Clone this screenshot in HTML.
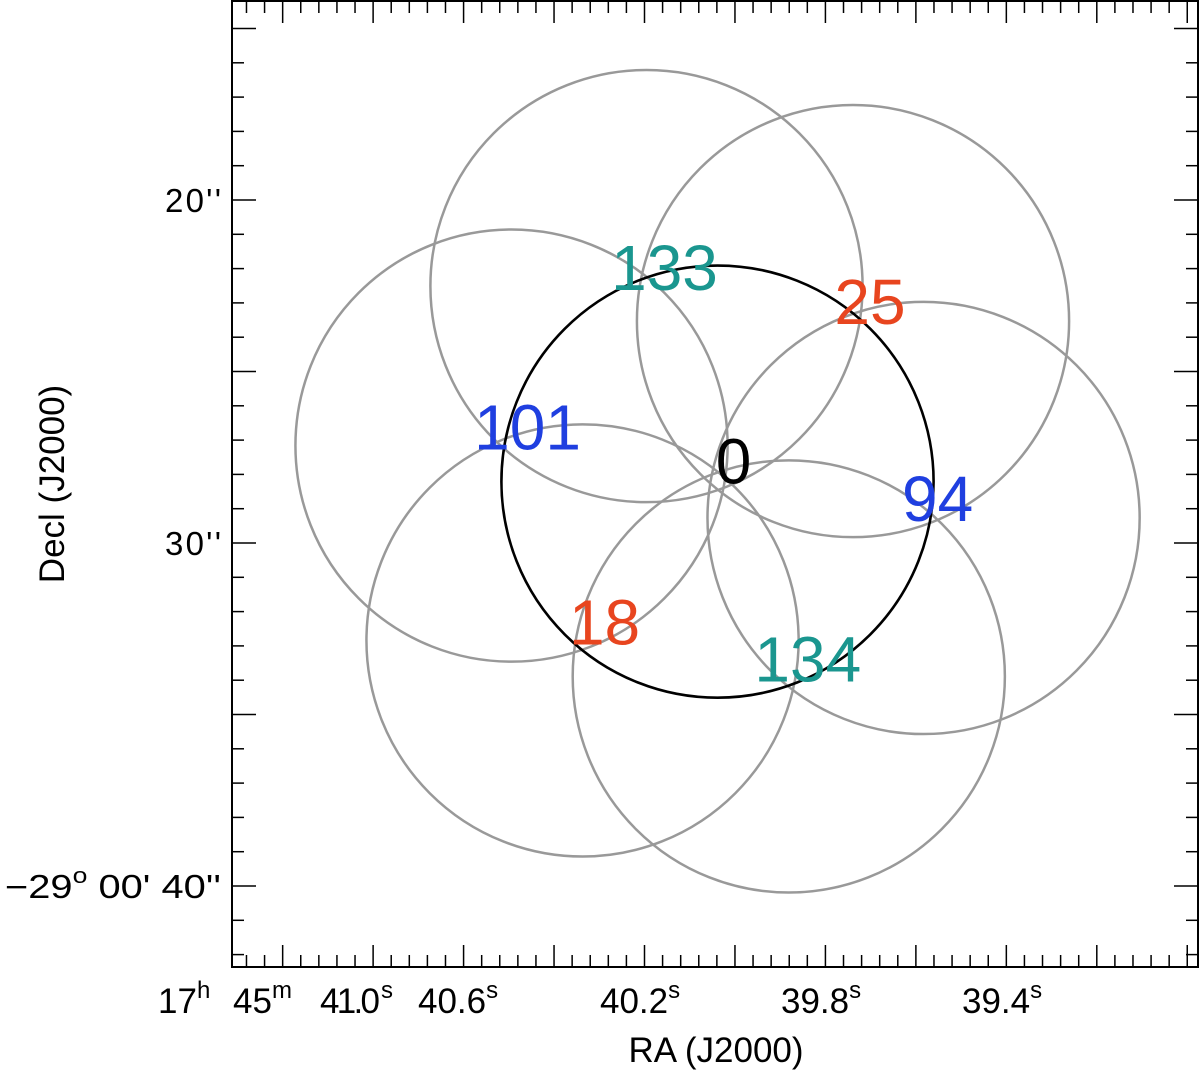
<!DOCTYPE html>
<html><head><meta charset="utf-8"><style>
html,body{margin:0;padding:0;background:#fff;}
svg{display:block;font-family:"Liberation Sans",sans-serif;}
</style></head><body>
<svg id="chart" width="1200" height="1076" viewBox="0 0 1200 1076" xmlns="http://www.w3.org/2000/svg">
<g id="ticks"></g>
<g id="circles"></g>
<g id="labels"></g>
<rect x="232" y="1" width="966" height="966" fill="none" stroke="#000" stroke-width="2"/>
<g font-size="33" fill="#000">
<text x="165" y="212" textLength="56">20''</text>
<text x="165" y="555" textLength="56">30''</text>
<text x="5" y="898" textLength="216" lengthAdjust="spacingAndGlyphs">−29<tspan font-size="22" dy="-15">o</tspan><tspan dy="15"> 00' 40''</tspan></text>
</g>
<g font-size="35" fill="#000">
<text x="158" y="1013">17<tspan font-size="24" dy="-15">h</tspan></text>
<text x="233" y="1013">45<tspan font-size="24" dy="-15">m</tspan></text>
<text x="320" y="1013" textLength="60">41.0</text>
<text x="381" y="998" font-size="24">s</text>
<text x="418" y="1013">40.6<tspan font-size="24" dy="-15">s</tspan></text>
<text x="600" y="1013">40.2<tspan font-size="24" dy="-15">s</tspan></text>
<text x="781" y="1013">39.8<tspan font-size="24" dy="-15">s</tspan></text>
<text x="962" y="1013">39.4<tspan font-size="24" dy="-15">s</tspan></text>
</g>
<text x="716" y="1062" font-size="35" text-anchor="middle">RA (J2000)</text>
<text transform="translate(64,484) rotate(-90)" font-size="35" text-anchor="middle">Decl (J2000)</text>
</svg>
<script>
const fieldNames = ['0','133','25','101','94','18','134'];
const fieldRA = [40.0386, 40.1956, 39.739, 40.494, 39.583, 40.337, 39.881];
const fieldDec = [28.21, 22.51, 23.53, 27.16, 29.27, 32.84, 33.89];
const beamRadius = [6.3, 6.3, 6.3, 6.3, 6.3, 6.3, 6.3];
const labelColors = ['#000000','#1a968f','#e8451f','#1f3fe0','#1f3fe0','#e8451f','#1a968f'];

const NS='http://www.w3.org/2000/svg';
const PX_PER_SEC=452.3, PX_PER_ARCSEC=34.3;
function xScale(ra){return 644.5+(40.2-ra)*PX_PER_SEC;}
function yScale(d){return 200+(d-20)*PX_PER_ARCSEC;}
function mk(tag,attrs,parent){const e=document.createElementNS(NS,tag);for(const k in attrs)e.setAttribute(k,attrs[k]);parent.appendChild(e);return e;}

const tg=document.getElementById('ticks');
for(let i=-40;i<=40;i++){
  const ra=40.2-i*0.04;const x=xScale(ra);
  if(x<233||x>1197)continue;
  const L=(i%5===0)?22:12;
  const t1=mk('line',{x1:x,y1:967,x2:x,y2:967-L,stroke:'#000','stroke-width':1.5},tg);
  
  
  const t2=mk('line',{x1:x,y1:1,x2:x,y2:1+L,stroke:'#000','stroke-width':1.5},tg);
  
  
}
for(let d=15;d<=42;d++){
  const y=yScale(d);
  const L=(d%5===0)?24:12;
  const t1=mk('line',{x1:232,y1:y,x2:232+L,y2:y,stroke:'#000','stroke-width':1.5},tg);
  
  
  const t2=mk('line',{x1:1198,y1:y,x2:1198-L,y2:y,stroke:'#000','stroke-width':1.5},tg);
  
  
}
const cg=document.getElementById('circles');
const lg=document.getElementById('labels');
const lblOff=[[16,-22],[18,-20],[17,-21],[16,-20],[14,-21],[22,-20],[19,-19]];
for(let i=fieldNames.length-1;i>=0;i--){
  const cx=xScale(fieldRA[i]),cy=yScale(fieldDec[i]);
  const c=mk('circle',{cx:cx,cy:cy,r:beamRadius[i]*PX_PER_ARCSEC,fill:'none',stroke:i===0?'#000':'#999','stroke-width':i===0?2.6:2.5},cg);
  
  
}
for(let i=0;i<fieldNames.length;i++){
  const cx=xScale(fieldRA[i]),cy=yScale(fieldDec[i]);
  const t=mk('text',{x:cx+lblOff[i][0],y:cy+lblOff[i][1]+24,'text-anchor':'middle','font-size':64,fill:labelColors[i]},lg);
  t.textContent=fieldNames[i];
  
  
}
</script>
</body></html>
